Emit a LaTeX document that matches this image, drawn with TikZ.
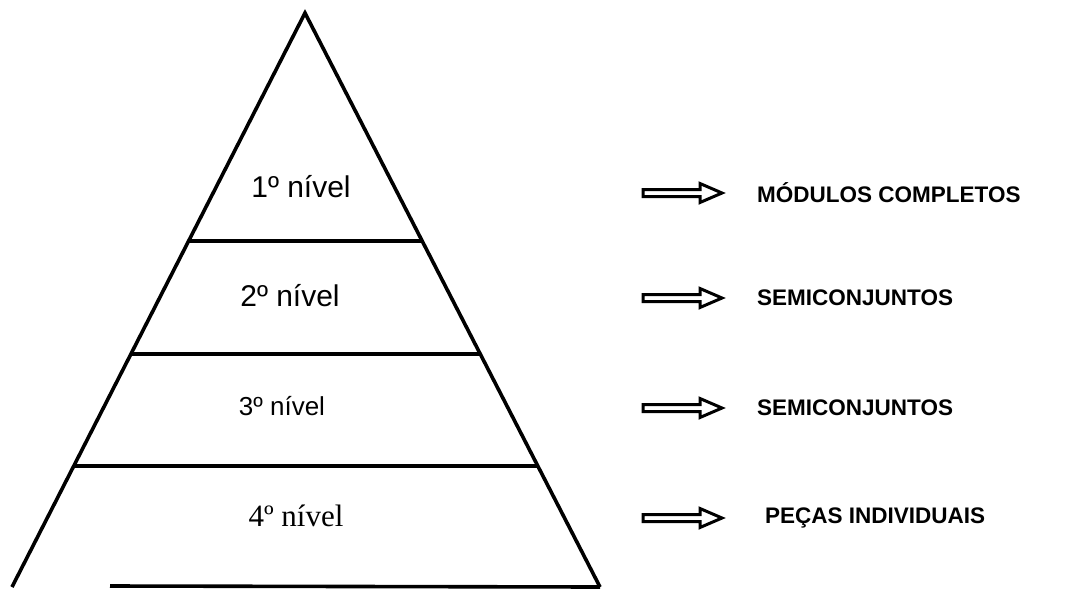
\documentclass[tikz,border=0pt]{standalone}
\usepackage{fontspec}
\usetikzlibrary{calc}
\setmainfont{Liberation Sans}
\newfontfamily\timesfont{Liberation Serif}
\begin{document}
\begin{tikzpicture}[x=1pt,y=-1pt,
  edge/.style={line width=3.6pt, line join=miter},
  lvl/.style={font=\fontsize{30}{30}\selectfont, inner sep=0pt},
  lbl/.style={font=\fontsize{22.5}{22.5}\selectfont\bfseries, anchor=west, inner sep=0pt},
  hollowarrow/.style={line width=3pt, line join=miter}]
\useasboundingbox (0,0) rectangle (1067,589);
\coordinate (apex) at (305,13);
\coordinate (bl) at (12,587);
\coordinate (br) at (600,587);
\coordinate (bs) at (110,586);
\draw[edge] (bl) -- (apex) -- (br);
\draw[edge] (bs) -- (br);
\foreach \t/\n in {0.397/a,0.594/b,0.789/c}{
  \coordinate (l\n) at ($(apex)!\t!(bl)$);
  \coordinate (r\n) at ($(apex)!\t!(br)$);
  \draw[edge] (l\n) -- (r\n);
}
\node[lvl] (n1) at (301,187) {1º nível};
\node[lvl] (n2) at (290,296) {2º nível};
\node[lvl, font=\fontsize{26}{26}\selectfont] (n3) at (282,406) {3º nível};
\node[lvl, font=\fontsize{31}{31}\selectfont\timesfont] (n4) at (296,516) {4º nível};
\foreach \y/\n in {193/1,298/2,408/3,518/4}{
  \draw[hollowarrow] (643,\y-3.5) -- (700,\y-3.5) -- (700,\y-9.5) -- (722,\y) -- (700,\y+9.5) -- (700,\y+3.5) -- (643,\y+3.5) -- cycle;
}
\node[lbl] (t1) at (757,193) {MÓDULOS COMPLETOS};
\node[lbl] (t2) at (757,298) {SEMICONJUNTOS};
\node[lbl] (t3) at (757,408) {SEMICONJUNTOS};
\node[lbl] (t4) at (765,518) {PEÇAS INDIVIDUAIS};
\end{tikzpicture}
\end{document}
